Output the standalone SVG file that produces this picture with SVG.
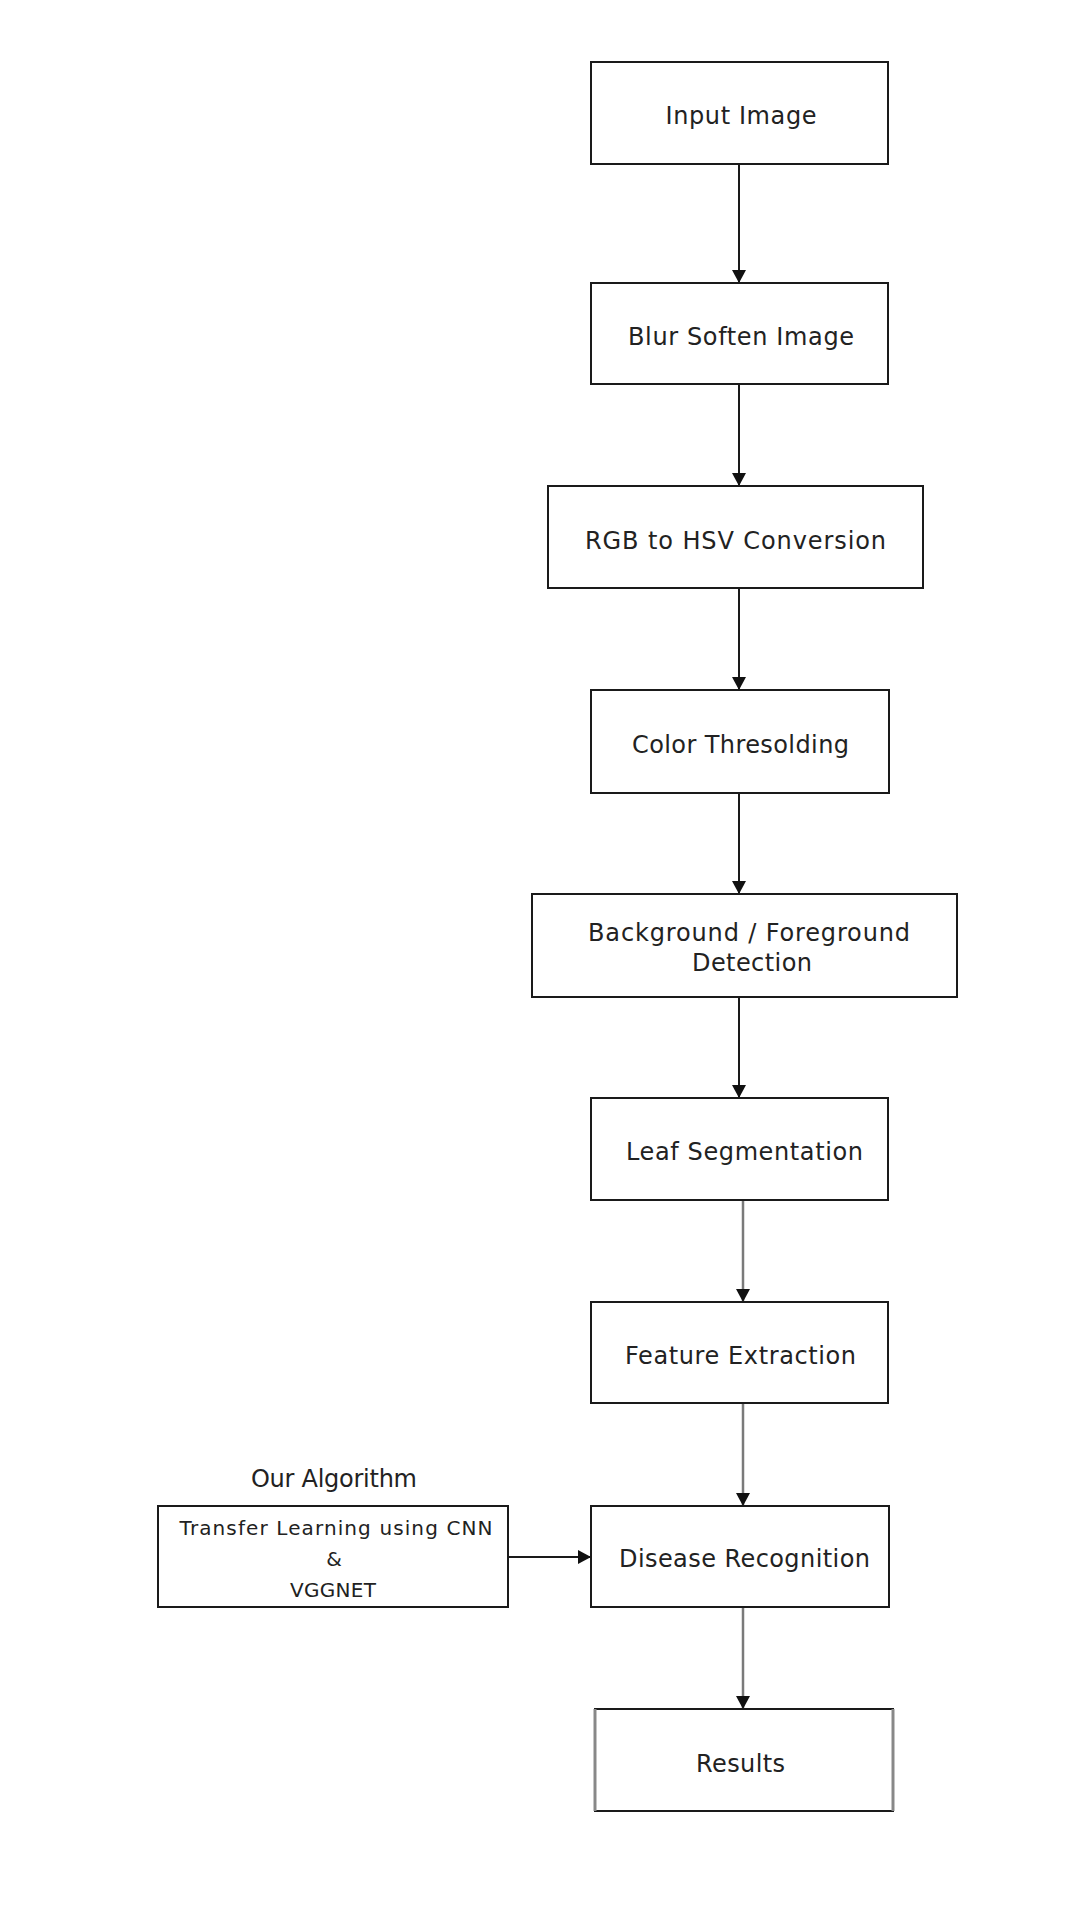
<svg xmlns="http://www.w3.org/2000/svg" width="1080" height="1920" viewBox="0 0 1080 1920">
<style>
.box{fill:#fff;stroke:#1a1a1a;stroke-width:2}
.t{font-family:"DejaVu Sans","Liberation Sans",sans-serif;font-size:24px;fill:#222;text-anchor:middle}
.s{font-size:20px}
.c{fill:none;stroke:#1a1a1a;stroke-width:2}
.g{fill:none;stroke:#7a7a7a;stroke-width:2.5}
</style>
<defs>
<marker id="ah" markerUnits="userSpaceOnUse" markerWidth="16" markerHeight="16" refX="13" refY="7" orient="auto">
<path d="M0,0 L13,7 L0,14 Z" fill="#111"/>
</marker>
</defs>
<rect width="1080" height="1920" fill="#fff"/>
<g id="connectors">
<line class="c" x1="739" y1="164" x2="739" y2="283" marker-end="url(#ah)"/>
<line class="c" x1="739" y1="384" x2="739" y2="486" marker-end="url(#ah)"/>
<line class="c" x1="739" y1="588" x2="739" y2="690" marker-end="url(#ah)"/>
<line class="c" x1="739" y1="793" x2="739" y2="894" marker-end="url(#ah)"/>
<line class="c" x1="739" y1="997" x2="739" y2="1098" marker-end="url(#ah)"/>
<line class="g" x1="743" y1="1200" x2="743" y2="1302" marker-end="url(#ah)"/>
<line class="g" x1="743" y1="1403" x2="743" y2="1506" marker-end="url(#ah)"/>
<line class="g" x1="743" y1="1607" x2="743" y2="1709" marker-end="url(#ah)"/>
<line class="c" x1="508" y1="1557" x2="591" y2="1557" marker-end="url(#ah)"/>
</g>
<g id="input-image">
<rect class="box" x="591" y="62" width="297" height="102"/>
<text class="t" x="741" y="124" textLength="151" lengthAdjust="spacing">Input Image</text>
</g>
<g id="blur-soften-image">
<rect class="box" x="591" y="283" width="297" height="101"/>
<text class="t" x="741" y="345" textLength="226" lengthAdjust="spacing">Blur Soften Image</text>
</g>
<g id="rgb-hsv">
<rect class="box" x="548" y="486" width="375" height="102"/>
<text class="t" x="735.5" y="549" textLength="301" lengthAdjust="spacing">RGB to HSV Conversion</text>
</g>
<g id="color-thresolding">
<rect class="box" x="591" y="690" width="298" height="103"/>
<text class="t" x="740.5" y="753" textLength="217" lengthAdjust="spacing">Color Thresolding</text>
</g>
<g id="bg-fg-detection">
<rect class="box" x="532" y="894" width="425" height="103"/>
<text class="t" x="749" y="941" textLength="322" lengthAdjust="spacing">Background / Foreground</text>
<text class="t" x="752" y="971" textLength="120" lengthAdjust="spacing">Detection</text>
</g>
<g id="leaf-segmentation">
<rect class="box" x="591" y="1098" width="297" height="102"/>
<text class="t" x="744.5" y="1160" textLength="237" lengthAdjust="spacing">Leaf Segmentation</text>
</g>
<g id="feature-extraction">
<rect class="box" x="591" y="1302" width="297" height="101"/>
<text class="t" x="740.5" y="1364" textLength="231" lengthAdjust="spacing">Feature Extraction</text>
</g>
<g id="disease-recognition">
<rect class="box" x="591" y="1506" width="298" height="101"/>
<text class="t" x="744.5" y="1567" textLength="251" lengthAdjust="spacing">Disease Recognition</text>
</g>
<g id="results">
<rect class="box" x="595" y="1709" width="298" height="102"/>
<line x1="595" y1="1709" x2="595" y2="1811" stroke="#888" stroke-width="3"/>
<line x1="893" y1="1709" x2="893" y2="1811" stroke="#888" stroke-width="3"/>
<text class="t" x="740.5" y="1772" textLength="89" lengthAdjust="spacing">Results</text>
</g>
<g id="our-algorithm">
<text class="t" x="334" y="1487" textLength="166" lengthAdjust="spacing">Our Algorithm</text>
<rect class="box" x="158" y="1506" width="350" height="101"/>
<text class="t s" x="336" y="1535" textLength="313" lengthAdjust="spacing">Transfer Learning using CNN</text>
<text class="t s" x="334" y="1566">&amp;</text>
<text class="t s" x="333" y="1597" textLength="86" lengthAdjust="spacing">VGGNET</text>
</g>
</svg>
